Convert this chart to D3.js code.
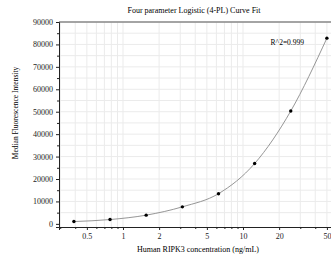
<!DOCTYPE html>
<html>
<head>
<meta charset="utf-8">
<script src="https://cdn.jsdelivr.net/npm/d3@7"></script>
<style>
  body { margin: 0; background: #fff; }
  svg { display: block; font-family: "Liberation Serif", "Times New Roman", serif; }
  .grid line { stroke: #ebebeb; stroke-width: 1; }
  .axis path, .axis line { stroke: #222; }
  .axis text { font-size: 8px; fill: #222; font-family: "Liberation Serif", serif; }
</style>
</head>
<body>
<svg width="331" height="262"></svg>
<script>
// standard concentrations (ng/mL) and measured MFI
var conc = [0.39, 0.78, 1.56, 3.125, 6.25, 12.5, 25, 50];
var mfi = [1030, 1920, 3880, 7590, 13450, 26900, 50300, 82800];
var xTickLabels = [0.5, 1, 2, 5, 10, 20, 50];
var xMinor = [0.3, 0.4, 0.6, 0.7, 0.8, 0.9, 3, 4, 6, 7, 8, 9, 30, 40];
var yTicks = [0, 10000, 20000, 30000, 40000, 50000, 60000, 70000, 80000, 90000];
var yMinor = [5000, 15000, 25000, 35000, 45000, 55000, 65000, 75000, 85000];

var margin = { top: 22, right: 0, bottom: 35, left: 59 };
var width = 331, height = 262;
var svg = d3.select('svg');

var x = d3.scaleLog()
  .domain([0.293, 54.1])
  .range([margin.left, width - margin.right]);
var y = d3.scaleLinear()
  .domain([-1400, 90000])
  .range([height - margin.bottom, margin.top]);

// grid
var grid = svg.append('g').attr('class', 'grid');
grid.selectAll('.vg')
  .data(xTickLabels.concat(xMinor))
  .enter().append('line')
  .attr('x1', d => x(d)).attr('x2', d => x(d))
  .attr('y1', y.range()[0]).attr('y2', y.range()[1]);
grid.selectAll('.hg')
  .data(yTicks.concat(yMinor).filter(d => d > 0))
  .enter().append('line')
  .attr('x1', x.range()[0]).attr('x2', x.range()[1])
  .attr('y1', d => y(d)).attr('y2', d => y(d));

// top frame line
svg.append('line')
  .attr('x1', x.range()[0]).attr('x2', x.range()[1])
  .attr('y1', margin.top).attr('y2', margin.top)
  .attr('stroke', '#888').attr('stroke-width', 1.5);

// x axis
svg.append('g')
  .attr('class', 'axis')
  .attr('transform', `translate(0,${y.range()[0]})`)
  .call(d3.axisBottom(x).tickValues(xTickLabels).tickSize(3).tickPadding(3)
    .tickFormat(d => String(d)));
svg.append('g')
  .attr('class', 'axis')
  .attr('transform', `translate(0,${y.range()[0]})`)
  .call(d3.axisBottom(x).tickValues(xMinor).tickSize(2).tickFormat(''))
  .select('.domain').remove();

// y axis
svg.append('g')
  .attr('class', 'axis')
  .attr('transform', `translate(${margin.left},0)`)
  .call(d3.axisLeft(y).tickValues(yTicks).tickSize(3).tickPadding(3)
    .tickFormat(d3.format('d')));
svg.append('g')
  .attr('class', 'axis')
  .attr('transform', `translate(${margin.left},0)`)
  .call(d3.axisLeft(y).tickValues(yMinor).tickSize(2).tickFormat(''))
  .select('.domain').remove();

// fitted curve
var pts = conc.map((c, i) => [c, mfi[i]]);
svg.append('path')
  .datum(pts)
  .attr('fill', 'none')
  .attr('stroke', '#8a8a8a')
  .attr('stroke-width', 0.9)
  .attr('d', d3.line().x(d => x(d[0])).y(d => y(d[1])).curve(d3.curveMonotoneX));

svg.selectAll('.dot')
  .data(pts)
  .enter().append('circle')
  .attr('cx', d => x(d[0]))
  .attr('cy', d => y(d[1]))
  .attr('r', 1.7)
  .attr('fill', '#000');

// texts
svg.append('text')
  .attr('x', 194).attr('y', 13)
  .attr('text-anchor', 'middle')
  .style('font-size', '8px')
  .text('Four parameter Logistic (4-PL) Curve Fit');

svg.append('text')
  .attr('x', 304).attr('y', 45)
  .attr('text-anchor', 'end')
  .style('font-size', '7.5px')
  .text('R^2=0.999');

svg.append('text')
  .attr('x', 198).attr('y', 252)
  .attr('text-anchor', 'middle')
  .style('font-size', '8px')
  .text('Human RIPK3 concentration (ng/mL)');

svg.append('text')
  .attr('transform', 'translate(18,113) rotate(-90)')
  .attr('text-anchor', 'middle')
  .style('font-size', '7.5px')
  .text('Median Fluorescence Intensity');
</script>
</body>
</html>
